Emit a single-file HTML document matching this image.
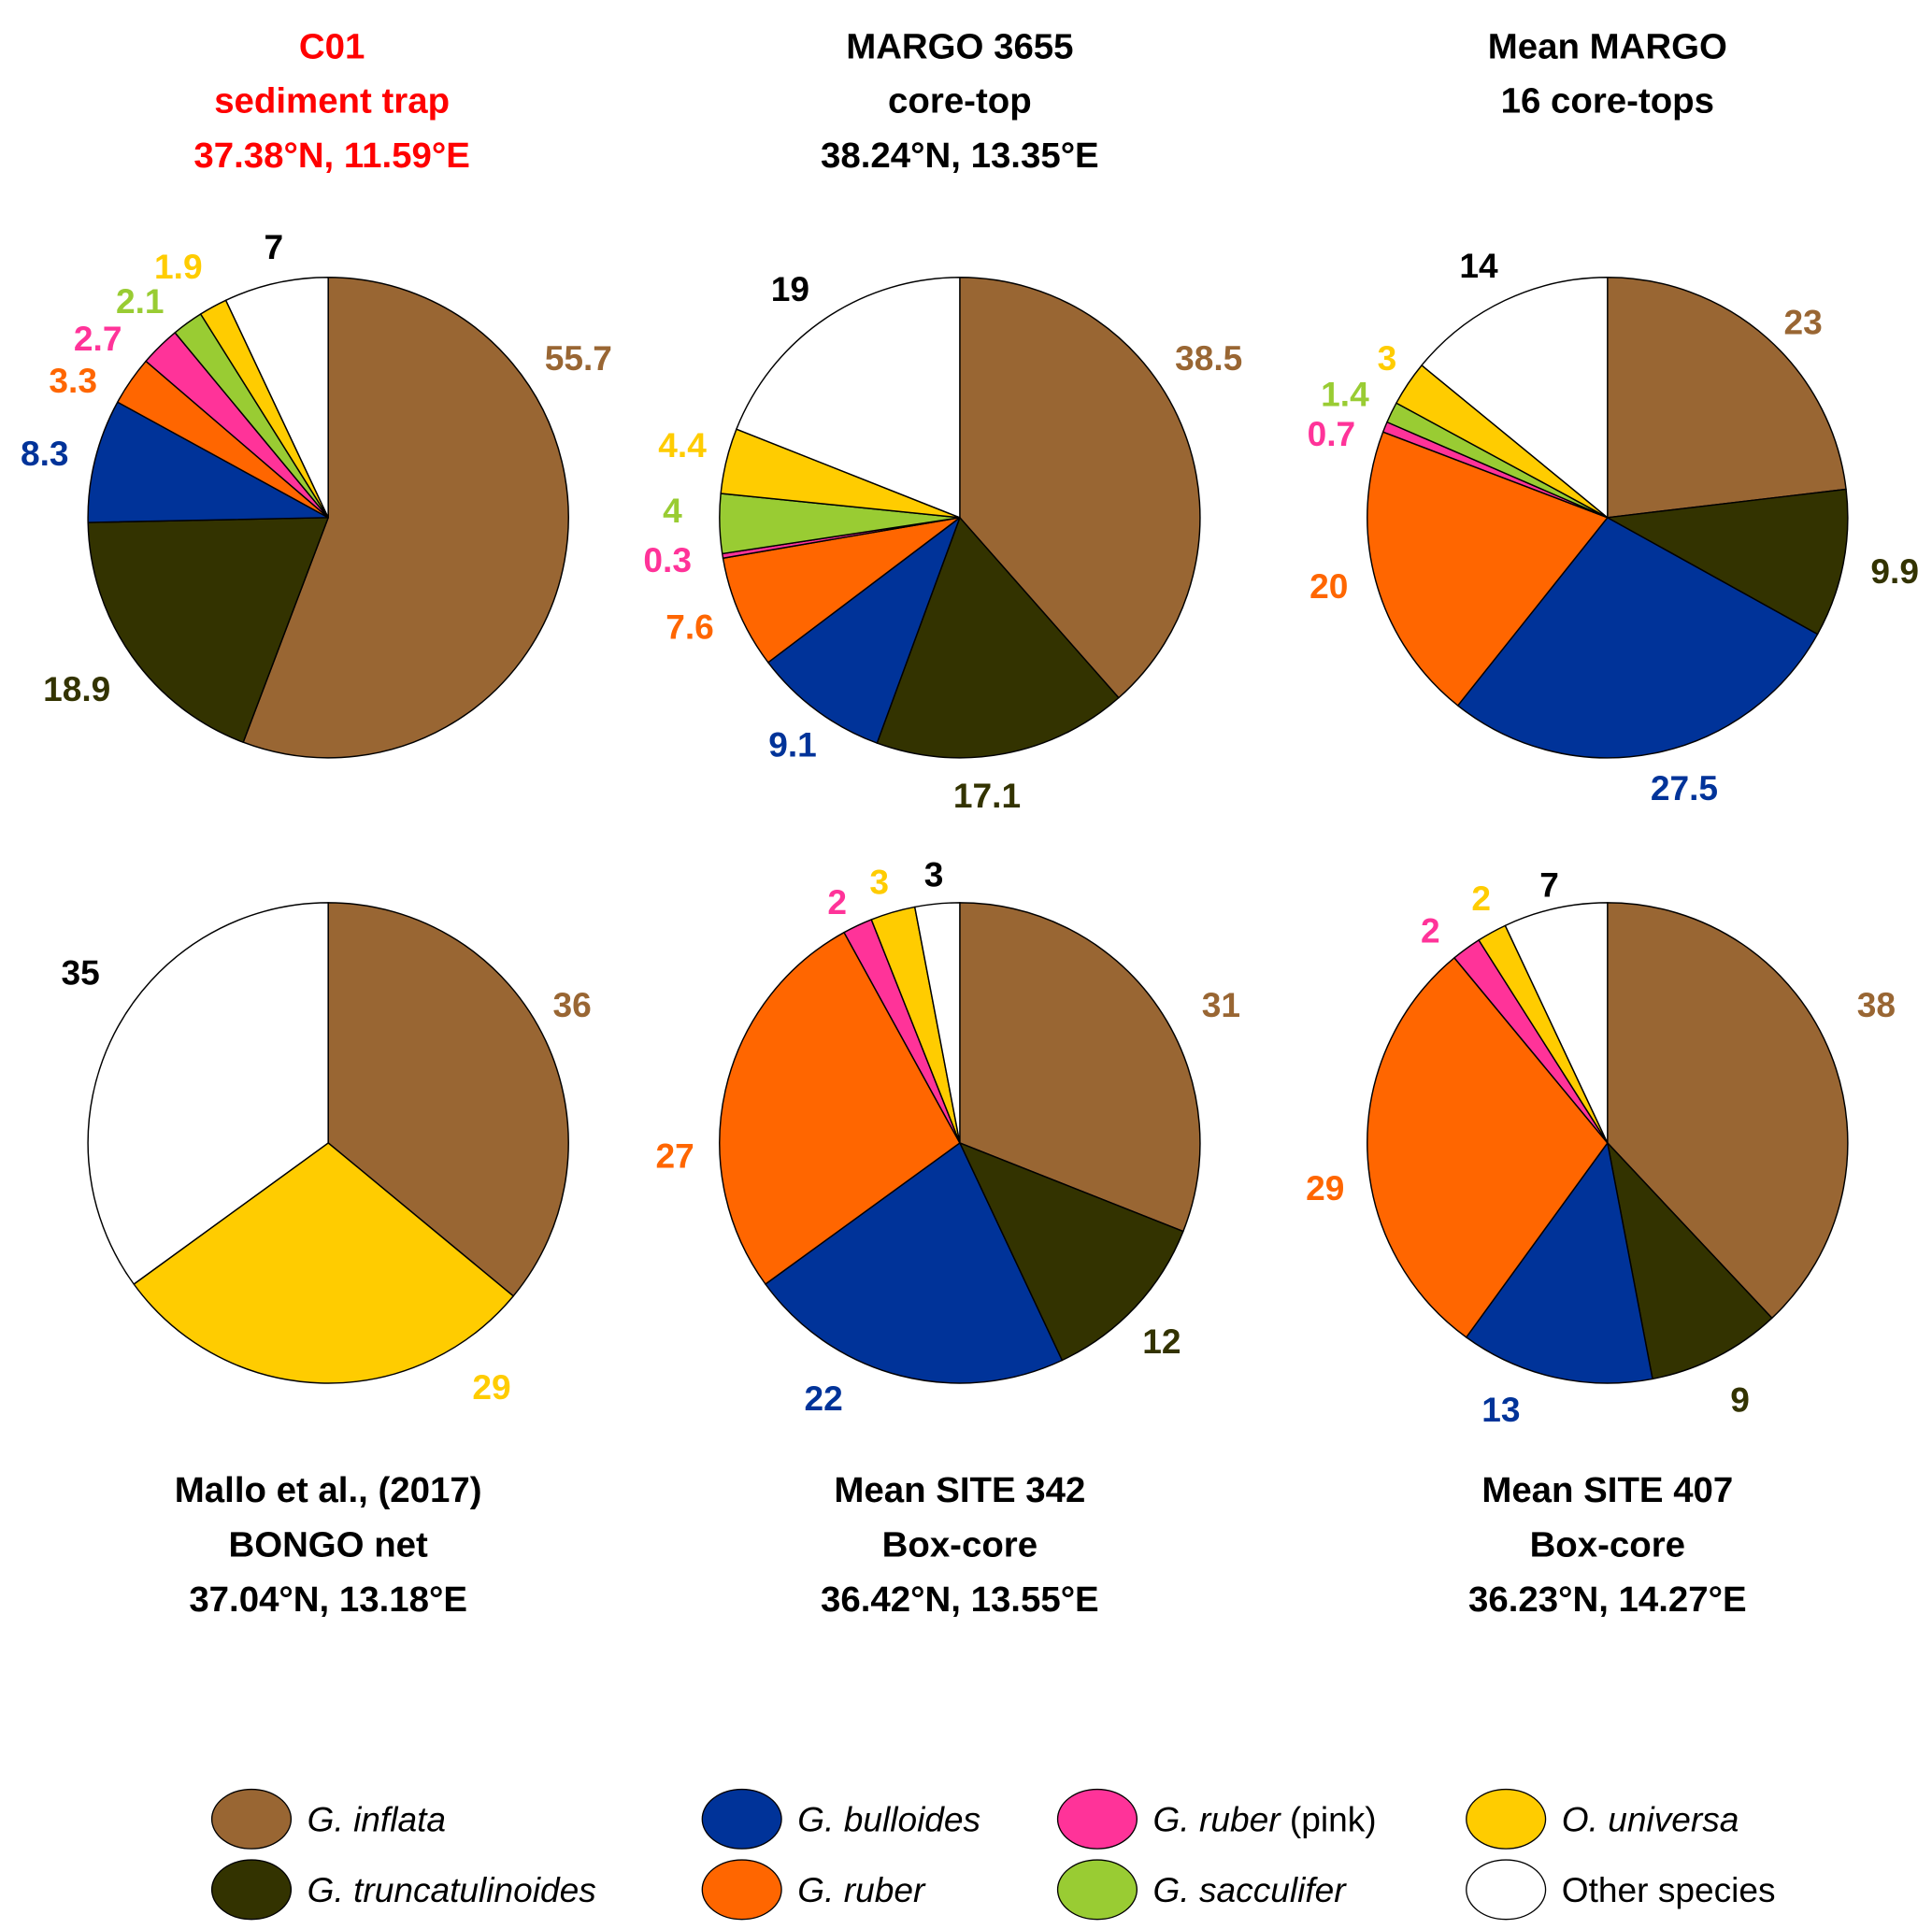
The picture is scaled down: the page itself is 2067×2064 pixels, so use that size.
<!DOCTYPE html>
<html><head><meta charset="utf-8"><style>
html,body{margin:0;padding:0;background:#fff}
svg{display:block}
text{font-family:"Liberation Sans",sans-serif}
</style></head><body>
<svg id="chart" width="2067" height="2064" viewBox="0 0 1560 1557.8" xmlns="http://www.w3.org/2000/svg">
<g id="pies"></g>
<g id="legend"></g>
</svg>
<script>
const species = ["G. inflata","G. truncatulinoides","G. bulloides","G. ruber","G. ruber (pink)","G. sacculifer","O. universa","Other species"];
const colors = ["#996633","#333300","#003399","#FF6600","#FF3399","#99CC33","#FFCC00","#FFFFFF"];
const labelColors = ["#996633","#333300","#003399","#FF6600","#FF3399","#99CC33","#FFCC00","#000000"];
const c01Values = [55.7,18.9,8.3,3.3,2.7,2.1,1.9,7];
const margo3655Values = [38.5,17.1,9.1,7.6,0.3,4,4.4,19];
const meanMargoValues = [23,9.9,27.5,20,0.7,1.4,3,14];
const malloValues = [36,0,0,0,0,0,29,35];
const site342Values = [31,12,22,27,2,0,3,3];
const site407Values = [38,9,13,29,2,0,2,7];
const titles = [
 ["C01","sediment trap","37.38°N, 11.59°E"],
 ["MARGO 3655","core-top","38.24°N, 13.35°E"],
 ["Mean MARGO","16 core-tops",""],
 ["Mallo et al., (2017)","BONGO net","37.04°N, 13.18°E"],
 ["Mean SITE 342","Box-core","36.42°N, 13.55°E"],
 ["Mean SITE 407","Box-core","36.23°N, 14.27°E"]
];
const allValues=[c01Values,margo3655Values,meanMargoValues,malloValues,site342Values,site407Values];
// layout (not data)
const layout=[
 {cx:265,cy:418,ty:[37,81,125],lab:[[467,289],[62,556],[36,366],[59,307],[79,273],[113,243],[144,215],[221,199]]},
 {cx:775,cy:418,ty:[37,81,125],lab:[[976,289],[797,642],[640,601],[557,506],[539,452],[543,412],[551,359],[638,233]]},
 {cx:1298,cy:418,ty:[37,81,125],lab:[[1456,260],[1530,461],[1360,636],[1073,473],[1075,350],[1086,318],[1120,289],[1194,214]]},
 {cx:265,cy:923,ty:[1203,1247,1291],lab:[[462,811],null,null,null,null,null,[397,1120],[65,785]]},
 {cx:775,cy:923,ty:[1203,1247,1291],lab:[[986,811],[938,1083],[665,1129],[545,933],[676,728],null,[710,712],[754,706]]},
 {cx:1298,cy:923,ty:[1203,1247,1291],lab:[[1515,811],[1405,1130],[1212,1138],[1070,959],[1155,751],null,[1196,725],[1251,714]]}
];
const R=194;
const NS="http://www.w3.org/2000/svg";
function mk(tag,attrs,parent){const e=document.createElementNS(NS,tag);for(const k in attrs)e.setAttribute(k,attrs[k]);parent.appendChild(e);return e;}
titles[2][2]="";
const piesG=document.getElementById('pies');
allValues.forEach((vals,pi)=>{
  const L=layout[pi];
  const g=mk('g',{},piesG);
  
  
  const total=vals.reduce((a,b)=>a+b,0);
  let acc=0;
  vals.forEach((v,i)=>{
    if(v<=0)return;
    const a0=acc/total*2*Math.PI; acc+=v; const a1=acc/total*2*Math.PI;
    const x0=L.cx+R*Math.sin(a0),y0=L.cy-R*Math.cos(a0);
    const x1=L.cx+R*Math.sin(a1),y1=L.cy-R*Math.cos(a1);
    const large=(a1-a0)>Math.PI?1:0;
    let d;
    if(v/total>=0.9999){d=`M${L.cx-R},${L.cy}a${R},${R} 0 1,0 ${2*R},0a${R},${R} 0 1,0 ${-2*R},0Z`;}
    else d=`M${L.cx},${L.cy}L${x0},${y0}A${R},${R} 0 ${large},1 ${x1},${y1}Z`;
    const p=mk('path',{d:d,fill:colors[i],stroke:'#000','stroke-width':1.1,'stroke-linejoin':'round'},g);
    
    
    const lp=L.lab[i];
    if(lp){
      const t=mk('text',{x:lp[0],y:lp[1]+10,'text-anchor':'middle','font-size':28,'font-weight':'bold',fill:labelColors[i]},g);
      t.textContent=String(v);
      
      
    }
  });
  titles[pi].forEach((line,li)=>{
    if(!line)return;
    const t=mk('text',{x:L.cx+(pi==0?3:0),y:L.ty[li]+10,'text-anchor':'middle','font-size':29,'font-weight':'bold',fill:pi==0?'#FF0000':'#000'},g);
    t.textContent=line;
    
    
  });
});
const lg=document.getElementById('legend');
const lx=[203,599,886,1216], ly=[1469,1526];
const order=[0,2,4,6,1,3,5,7];
order.forEach((si,k)=>{
  const col=k%4,row=Math.floor(k/4);
  const g=mk('g',{},lg);
  
  
  const e=mk('ellipse',{cx:lx[col],cy:ly[row],rx:32,ry:24,fill:colors[si],stroke:'#000','stroke-width':1},g);
  
  
  const t=mk('text',{x:lx[col]+45,y:ly[row]+10,'font-size':28,fill:'#000'},g);
  
  
  const name=species[si];
  if(name==="Other species"){t.textContent=name;}
  else if(name.endsWith("(pink)")){
    const s1=mk('tspan',{'font-style':'italic'},t);s1.textContent="G. ruber ";
    const s2=mk('tspan',{},t);s2.textContent="(pink)";
  } else {t.setAttribute('font-style','italic');t.textContent=name;}
});
</script>
</body></html>
